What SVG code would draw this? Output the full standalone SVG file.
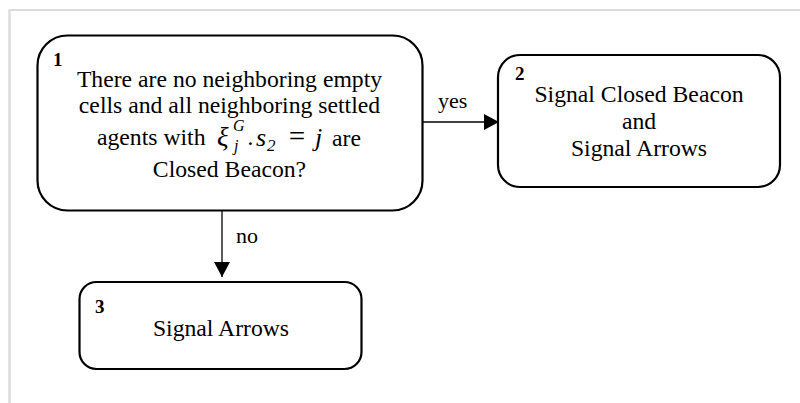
<svg xmlns="http://www.w3.org/2000/svg" width="800" height="403" viewBox="0 0 800 403">
<defs>
<style>
.box{fill:#fff;stroke:#000;stroke-width:2.2}
.t{font-family:"Liberation Serif","Times New Roman",serif;font-size:23.7px;fill:#000}
.num{font-family:"Liberation Serif","Times New Roman",serif;font-size:19px;font-weight:bold;fill:#000}
.m{font-family:"Liberation Serif","Times New Roman",serif;font-style:italic;fill:#000}
.edge{stroke:#000;stroke-width:1.3;fill:none}
.lbl{font-family:"Liberation Serif","Times New Roman",serif;font-size:22px;fill:#000}
</style>
<marker id="arr" markerWidth="15" markerHeight="16" refX="15" refY="8" orient="auto" markerUnits="userSpaceOnUse">
<path d="M0,0 L15,8 L0,16 Z" fill="#000"/>
</marker>
</defs>
<rect x="0" y="0" width="800" height="403" fill="#fff"/>
<g id="frame">
<line x1="9" y1="10" x2="800" y2="10" stroke="#dcdcdc" stroke-width="2"/>
<line x1="9.5" y1="9" x2="9.5" y2="403" stroke="#dcdcdc" stroke-width="2.5"/>
</g>
<g id="connectors">
<line class="edge" x1="423" y1="122" x2="499" y2="122" marker-end="url(#arr)"/>
<text class="lbl" x="438" y="108">yes</text>
<line class="edge" x1="222" y1="211" x2="222" y2="277" marker-end="url(#arr)"/>
<text class="lbl" x="236" y="243">no</text>
</g>
<g id="node1">
<rect class="box" x="37.5" y="35.5" width="385" height="175" rx="30" ry="30"/>
<text class="num" x="53" y="66">1</text>
<text class="t" x="229.5" y="87" text-anchor="middle">There are no neighboring empty</text>
<text class="t" x="229.5" y="113" text-anchor="middle">cells and all neighboring settled</text>
<text class="t" x="97" y="145">agents with</text>
<text class="m" x="217" y="146" font-size="27">ξ</text>
<text class="m" x="233" y="131" font-size="16">G</text>
<text class="m" x="234" y="151" font-size="16">j</text>
<text class="m" x="248" y="145" font-size="24" font-style="normal">.</text>
<text class="m" x="256" y="146" font-size="26">s</text>
<text class="m" x="267" y="151" font-size="17" font-style="normal">2</text>
<text class="m" x="287" y="146" font-size="29" font-style="normal">=</text>
<text class="m" x="315" y="146" font-size="26">j</text>
<text class="t" x="332" y="146">are</text>
<text class="t" x="229.5" y="177" text-anchor="middle">Closed Beacon?</text>
</g>
<g id="node2">
<rect class="box" x="498" y="55" width="282" height="132" rx="22" ry="22"/>
<text class="num" x="515" y="80">2</text>
<text class="t" x="639" y="102" text-anchor="middle">Signal Closed Beacon</text>
<text class="t" x="639" y="129" text-anchor="middle">and</text>
<text class="t" x="639" y="156" text-anchor="middle">Signal Arrows</text>
</g>
<g id="node3">
<rect class="box" x="79.5" y="282" width="282" height="87" rx="17" ry="17"/>
<text class="num" x="95" y="313">3</text>
<text class="t" x="221" y="336" text-anchor="middle">Signal Arrows</text>
</g>
</svg>
